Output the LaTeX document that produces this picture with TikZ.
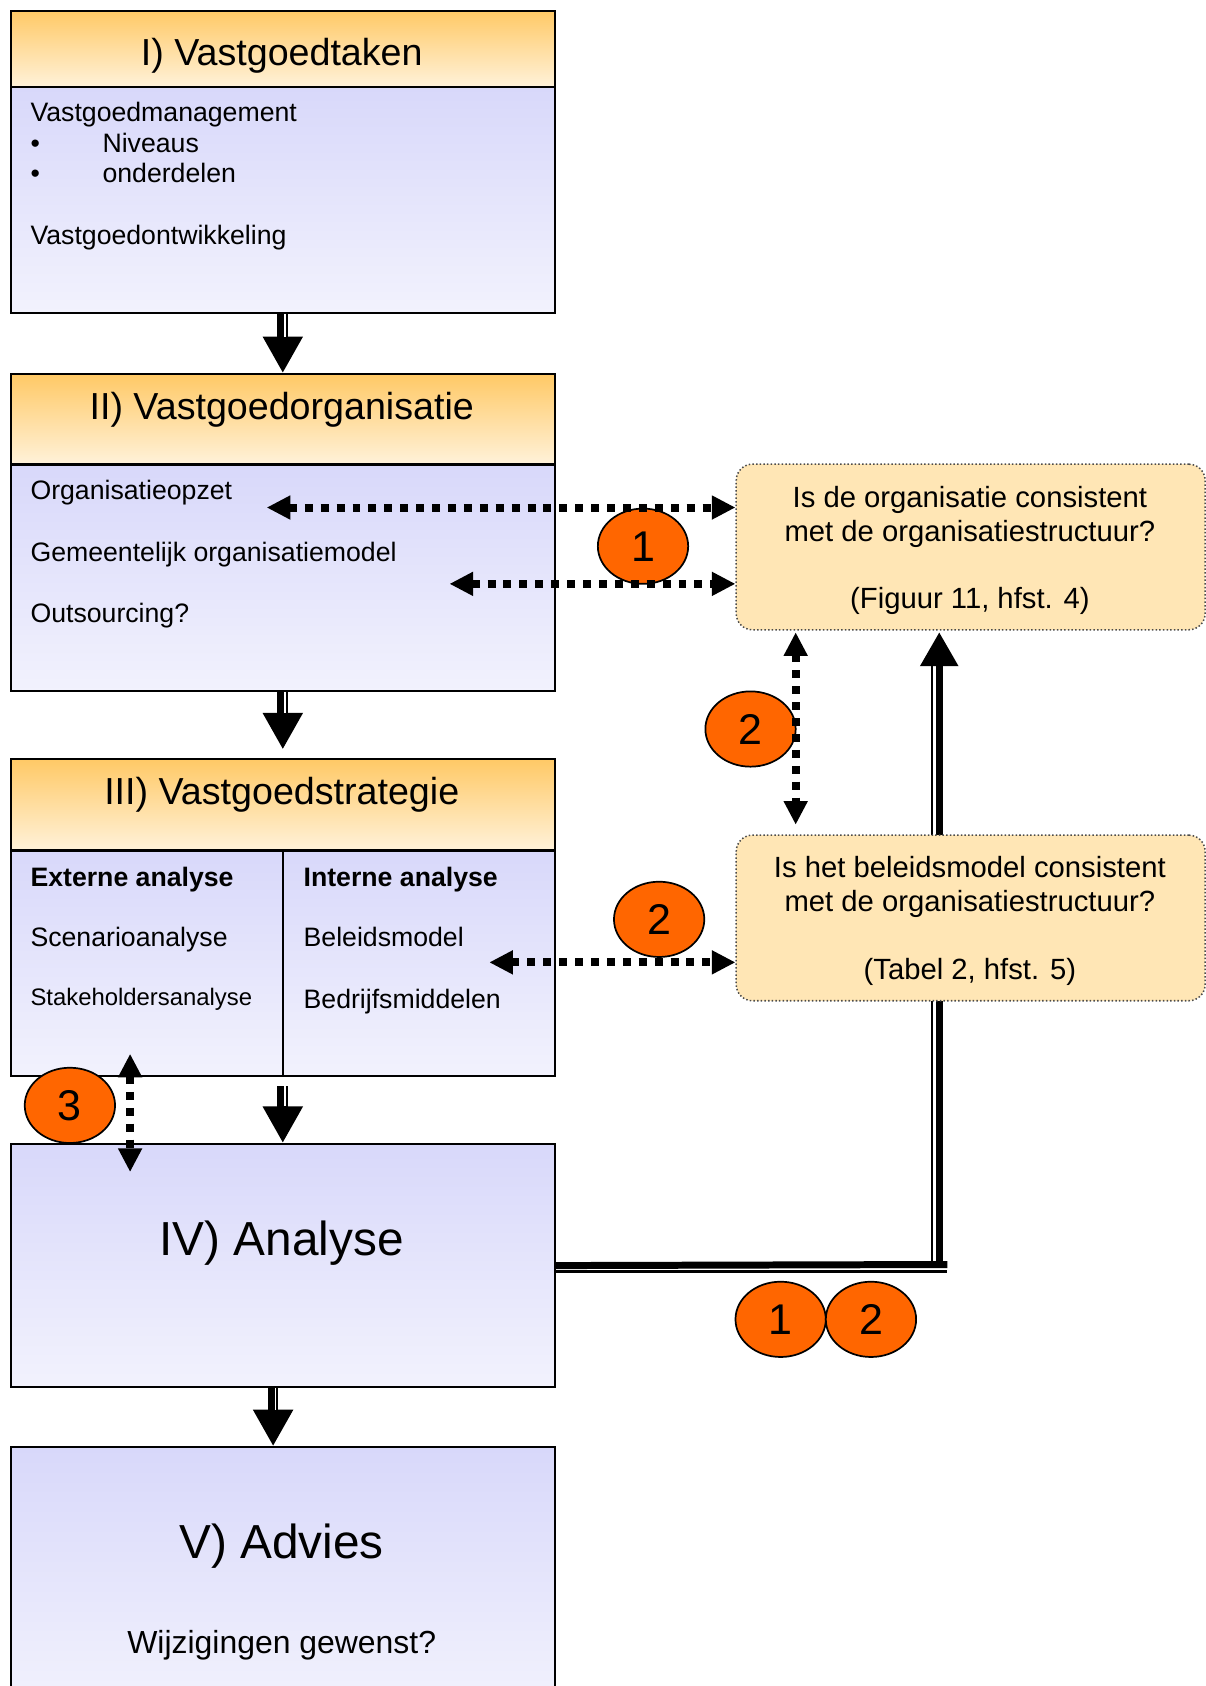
\documentclass[tikz,border=0pt]{standalone}
\usepackage{fontspec}
\setmainfont{Liberation Sans}
\usetikzlibrary{arrows.meta,backgrounds,shapes.geometric}

\definecolor{hdrtop}{HTML}{FFC966}
\definecolor{hdrbot}{HTML}{FFF2DA}
\definecolor{bodytop}{HTML}{D8D8FA}
\definecolor{bodybot}{HTML}{F2F2FD}
\definecolor{qfill}{HTML}{FFE6B5}
\definecolor{badgec}{HTML}{FF6600}

\begin{document}
\begin{tikzpicture}[x=0.5pt,y=-0.5pt,
  hdr/.style={draw=black, line width=1pt, top color=hdrtop, bottom color=hdrbot,
    minimum width=253pt, inner sep=0pt, anchor=north west},
  bodybox/.style={draw=black, line width=1pt, top color=bodytop, bottom color=bodybot,
    minimum width=253pt, inner sep=0pt, anchor=north west},
  qbox/.style={draw=black!70, densely dotted, line width=0.7pt, fill=qfill,
    rounded corners=7.5pt, minimum width=218pt, minimum height=77pt,
    inner sep=0pt, anchor=north west},
  badge/.style={ellipse, draw=black, line width=0.8pt, fill=badgec,
    minimum width=42pt, minimum height=35pt, inner sep=0pt,
    font=\fontsize{20pt}{24pt}\selectfont},
  txt/.style={inner sep=0pt, anchor=base west, font=\fontsize{12.4pt}{14pt}\selectfont},
  txtb/.style={txt, font=\fontsize{12.4pt}{14pt}\selectfont\bfseries},
  txts/.style={txt, font=\fontsize{11.1pt}{13pt}\selectfont},
  title/.style={inner sep=0pt, anchor=base, font=\fontsize{17.5pt}{20pt}\selectfont},
  bigtitle/.style={inner sep=0pt, anchor=base, font=\fontsize{22.2pt}{26pt}\selectfont},
  midtxt/.style={inner sep=0pt, anchor=base, font=\fontsize{14.85pt}{17pt}\selectfont},
  qtxt/.style={inner sep=0pt, anchor=base, font=\fontsize{13.6pt}{16pt}\selectfont},
  fat/.style={line width=5pt, -{Triangle[length=17pt,width=17.5pt]}},
  stripe/.style={draw=white, line width=0.7pt},
  heavy/.style={line width=3.25pt},
  thinl/.style={line width=1pt},
  dotarrow/.style={line width=3.7pt, dash pattern=on 3.7pt off 3.7pt,
    {Triangle[length=11pt,width=10.5pt]}-{Triangle[length=11pt,width=10.5pt]}},
]
\useasboundingbox (0,0) rectangle (1121,1568);

% ---- main column of stages ----
\node[hdr, minimum height=35.5pt] (h1) at (9,9) {};
\node[bodybox, minimum height=105pt] (b1) at (9,80) {};
\node[hdr, minimum height=42pt] (h2) at (9,347) {};
\node[bodybox, minimum height=105.5pt] (b2) at (9,431) {};
\node[hdr, minimum height=42.5pt] (h3) at (9,705) {};
\node[bodybox, minimum height=105pt] (b3) at (9,790) {};
\draw[line width=1pt] (b3.north) -- (b3.south);
\node[bodybox, minimum height=113pt] (b4) at (9,1063) {};
\node[bodybox, minimum height=120pt] (b5) at (9,1345) {};

% ---- stage I ----
\node[title] (t1) at (262,60.6) {I) Vastgoedtaken};
\node[txt] (t1a) at (28,113) {Vastgoedmanagement};
\node[txt] (t1b) at (28,142) {\makebox[33.5pt][l]{•}Niveaus};
\node[txt] (t1c) at (28,170) {\makebox[33.5pt][l]{•}onderdelen};
\node[txt] (t1d) at (28,227) {Vastgoedontwikkeling};

% ---- stage II ----
\node[title] (t2) at (262,390.6) {II) Vastgoedorganisatie};
\node[txt] (t2a) at (28,465) {Organisatieopzet};
\node[txt] (t2b) at (28,522) {Gemeentelijk organisatiemodel};
\node[txt] (t2c) at (28,579) {Outsourcing?};

% ---- stage III ----
\node[title] (t3) at (262,748.6) {III) Vastgoedstrategie};
\node[txtb] (t3a) at (28,824) {Externe analyse};
\node[txt] (t3b) at (28,880) {Scenarioanalyse};
\node[txts] (t3c) at (28,935) {Stakeholdersanalyse};
\node[txtb] (t3d) at (282,824) {Interne analyse};
\node[txt] (t3e) at (282,880) {Beleidsmodel};
\node[txt] (t3f) at (282,938) {Bedrijfsmiddelen};

% ---- stages IV and V ----
\node[bigtitle] (t4) at (262,1168) {IV) Analyse};
\node[bigtitle] (t5) at (262,1449) {V) Advies};
\node[midtxt] (t5a) at (262,1537.7) {Wijzigingen gewenst?};

% ---- check questions ----
\node[qbox] (qa) at (684,431) {};
\node[qtxt] (qa1) at (902,471.8) {Is de organisatie consistent};
\node[qtxt] (qa2) at (902,503.8) {met de organisatiestructuur?};
\node[qtxt] (qa3) at (902,565.8) {(Figuur 11, hfst. 4)};
\node[qbox] (qb) at (684,776) {};
\node[qtxt] (qb1) at (902,815.8) {Is het beleidsmodel consistent};
\node[qtxt] (qb2) at (902,847.8) {met de organisatiestructuur?};
\node[qtxt] (qb3) at (902,910.8) {(Tabel 2, hfst. 5)};

% ---- feedback line from the analysis to the first question ----
\coordinate (tipA) at (873.5,588);
\coordinate (elb) at (881,1176);
\coordinate (vt0) at (866.5,1173);
\coordinate (vt1) at (866.5,619);
\coordinate (ht0) at (515,1182.5);
\coordinate (ht1) at (881,1182.5);
\begin{scope}[on background layer]
  \draw[heavy] (b4.east) -- (elb);
  \draw[thinl] (ht0) -- (ht1);
  \draw[heavy, -{Triangle[length=15.75pt,width=17pt]}] (elb -| tipA) -- (tipA);
  \draw[thinl] (vt0) -- (vt1);
\end{scope}

% ---- flow arrows between the stages ----
\draw[fat] (b1.south) -- (h2.north);
\draw[stripe] ([xshift=1pt]b1.south) -- ([xshift=1pt,yshift=17pt]h2.north);
\draw[fat] (b2.south) -- ([yshift=4pt]h3.north);
\draw[stripe] ([xshift=1pt]b2.south) -- ([xshift=1pt,yshift=21pt]h3.north);
\draw[fat] ([yshift=-4pt]b3.south) -- (b4.north);
\draw[stripe] ([xshift=1pt,yshift=-4pt]b3.south) -- ([xshift=1pt,yshift=17pt]b4.north);
\draw[fat] ([xshift=-4.5pt]b4.south) -- ([xshift=-4.5pt]b5.north);
\draw[stripe] ([xshift=-3.5pt]b4.south) -- ([xshift=-3.5pt,yshift=17pt]b5.north);

% ---- numbered badges ----
\node[badge] (n1) at (598,508) {1};
\node[badge] (n2) at (698,678) {2};
\node[badge] (n3) at (613,855) {2};
\node[badge] (n4) at (65,1028) {3};
\node[badge] (n5) at (726,1227) {1};
\node[badge] (n6) at (810,1227) {2};

% ---- dotted two-way links ----
\coordinate (p1) at (248,472);
\coordinate (p2) at (418,543);
\coordinate (p3) at (740,588);
\coordinate (p4) at (740,767);
\coordinate (p5) at (455,895);
\coordinate (p6) at (121,980);
\coordinate (p7) at (121,1090);
\draw[dotarrow] (p1) -- (p1 -| qa.west);
\draw[dotarrow] (p2) -- (p2 -| qa.west);
\draw[dotarrow] (p3) -- (p4);
\draw[dotarrow] (p5) -- (p5 -| qb.west);
\draw[dotarrow] (p6) -- (p7);
\end{tikzpicture}
\end{document}
